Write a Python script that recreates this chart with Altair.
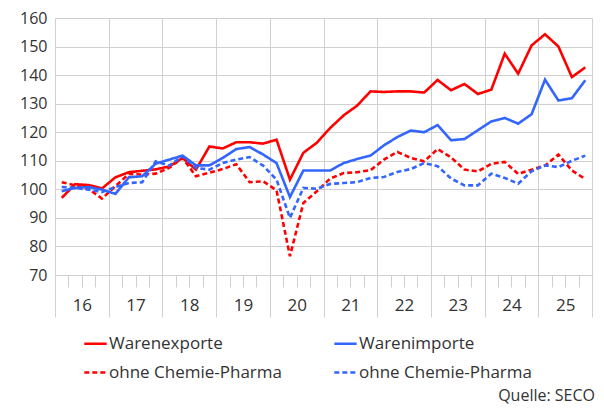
import altair as alt
import pandas as pd

# Quarterly index values, 2016 Q1 .. 2025 Q4
first_year = 2016
last_year = 2025
series_names = ["Warenexporte", "Exporte ohne Chemie-Pharma",
                "Warenimporte", "Importe ohne Chemie-Pharma"]
exports = [97.0, 101.8, 101.5, 100.3, 104.2, 106.0, 106.5, 107.0,
           108.0, 111.0, 106.9, 115.0, 114.3, 116.5, 116.5, 116.0,
           117.4, 103.4, 112.8, 116.3, 121.5, 125.9, 129.3, 134.3,
           134.1, 134.3, 134.3, 133.9, 138.3, 134.7, 136.9, 133.4,
           134.9, 147.5, 140.5, 150.4, 154.3, 150.0, 139.3, 142.7]
imports = [99.3, 100.5, 100.8, 99.9, 98.4, 104.2, 104.6, 109.0,
           110.4, 111.8, 108.4, 108.4, 111.0, 114.1, 114.8, 112.2,
           109.2, 97.3, 106.6, 106.6, 106.6, 109.2, 110.6, 111.8,
           115.4, 118.3, 120.6, 120.0, 122.5, 117.2, 117.6, 120.7,
           123.8, 125.0, 123.0, 126.3, 138.4, 131.1, 131.9, 138.2]
exports_ex = [102.5, 101.4, 100.1, 96.8, 101.1, 105.4, 105.2, 105.5,
              107.5, 111.0, 104.6, 105.8, 107.1, 108.8, 102.5, 102.8,
              99.7, 76.6, 95.2, 99.3, 103.8, 105.7, 106.0, 106.7,
              110.4, 113.1, 111.0, 109.8, 114.1, 111.2, 106.9, 106.3,
              108.9, 109.6, 105.4, 106.9, 108.3, 112.2, 106.6, 103.6]
imports_ex = [100.8, 100.5, 99.9, 99.0, 100.8, 102.2, 102.5, 109.8,
              108.3, 111.6, 107.5, 106.9, 109.2, 110.4, 111.3, 108.3,
              103.4, 90.0, 100.5, 100.2, 101.9, 102.2, 102.5, 104.0,
              104.3, 106.1, 107.1, 109.2, 108.1, 103.8, 101.4, 101.4,
              105.5, 104.0, 102.0, 106.3, 108.4, 107.8, 110.0, 111.8]
y_ticks = list(range(70, 161, 10))
source_note = ["Quelle: SECO"]

RED = "#FF0000"
BLUE = "#3366FF"
GRID = "#D0D0D0"
TEXT = "#333333"
FONT = "Open Sans"

rows = []
for name, vals in zip(series_names, [exports, exports_ex, imports, imports_ex]):
    for i, v in enumerate(vals):
        year = first_year + i // 4
        q = i % 4 + 1
        rows.append({"s": name, "t": year + (q - 0.5) / 4, "v": v})
df = pd.DataFrame(rows)

x_scale = alt.Scale(domain=[first_year, last_year + 1], nice=False, zero=False)
y_scale = alt.Scale(domain=[70, 160], nice=False, zero=False)

legend = alt.Legend(
    title=None, orient="none", legendX=28, legendY=313, columns=2,
    columnPadding=47, rowPadding=8, symbolType="stroke", symbolSize=500,
    symbolStrokeWidth=2.5, labelFont=FONT, labelFontSize=17, labelColor=TEXT,
    labelOffset=1, padding=0, labelLimit=400,
    labelExpr="datum.label == 'Warenexporte' || datum.label == 'Warenimporte' ? datum.label : 'ohne Chemie-Pharma'",
)

year_lines = list(range(first_year, last_year + 2))
lines = alt.Chart(df).mark_line(strokeWidth=2.6).encode(
    x=alt.X("t:Q", scale=x_scale, axis=alt.Axis(
        values=year_lines, grid=True, labels=False, ticks=True, tickSize=42,
        domain=False, title=None, tickColor=GRID, gridColor=GRID, orient="bottom")),
    y=alt.Y("v:Q", scale=y_scale, axis=alt.Axis(
        values=y_ticks, grid=True, gridColor=GRID, ticks=False, domain=False,
        title=None, labelPadding=8, labelFont=FONT, labelFontSize=16,
        labelColor=TEXT)),
    color=alt.Color("s:N", scale=alt.Scale(domain=series_names,
                                            range=[RED, RED, BLUE, BLUE]), legend=legend),
    strokeDash=alt.StrokeDash("s:N", scale=alt.Scale(
        domain=series_names, range=[[1, 0], [5, 3], [1, 0], [5, 3]]), legend=legend),
)

quarter_vals = [y + q / 4 for y in range(first_year, last_year + 1) for q in (1, 2, 3)]
qticks = alt.Chart(df).mark_point(opacity=0).encode(
    x=alt.X("t:Q", scale=x_scale, axis=alt.Axis(
        values=quarter_vals, grid=False, labels=False, tickSize=12, domain=False,
        title=None, tickColor=GRID, orient="bottom")),
)

label_vals = [y + 0.5 for y in range(first_year, last_year + 1)]
ylabels = alt.Chart(df).mark_point(opacity=0).encode(
    x=alt.X("t:Q", scale=x_scale, axis=alt.Axis(
        values=label_vals, grid=False, ticks=False, domain=False, title=None,
        labelExpr="'' + (floor(datum.value) - 2000)", labelPadding=22,
        labelFont=FONT, labelFontSize=17, labelColor=TEXT, orient="bottom")),
)

note = alt.Chart(pd.DataFrame({"note": source_note})).mark_text(
    align="right", baseline="alphabetic", font=FONT, fontSize=16, color=TEXT
).encode(x=alt.value(540), y=alt.value(383), text="note:N")

chart = alt.layer(lines, qticks, ylabels, note).resolve_axis(x="independent").properties(
    width=537, height=257,
    autosize=alt.AutoSizeParams(type="none"),
    padding={"left": 47, "top": 10, "right": 4, "bottom": 130},
).configure_view(stroke=None)

chart.save("out.html", embed_options={"renderer": "svg", "actions": False})
